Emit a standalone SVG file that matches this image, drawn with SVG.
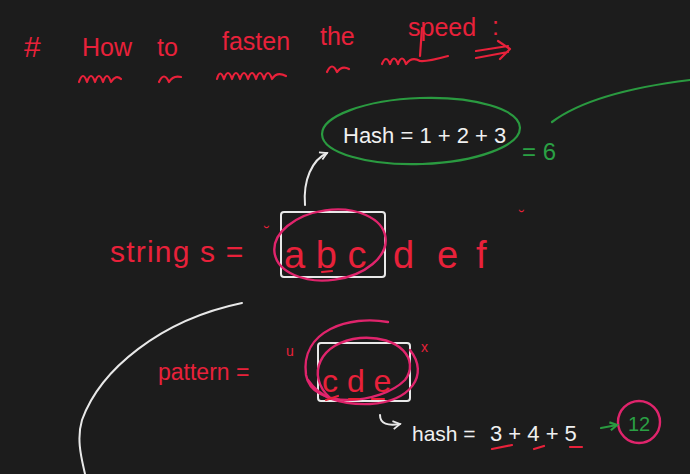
<svg xmlns="http://www.w3.org/2000/svg" width="690" height="474" viewBox="0 0 690 474">
<defs>
<style>
.red{fill:#e8213a;font-family:"Liberation Sans",Arial,sans-serif}
.wht{fill:#f0f0f0;font-family:"Liberation Sans",Arial,sans-serif}
.grn{fill:#2aa044;font-family:"Liberation Sans",Arial,sans-serif}
.sr{fill:none;stroke:#e8213a;stroke-width:2.2;stroke-linecap:round;stroke-linejoin:round}
.sm{fill:none;stroke:#e0246c;stroke-width:2.4;stroke-linecap:round}
.sw{fill:none;stroke:#e8e8e8;stroke-width:2;stroke-linecap:round;stroke-linejoin:round}
.sg{fill:none;stroke:#2a9a40;stroke-width:2.2;stroke-linecap:round}
</style>
<marker id="wh" markerWidth="10" markerHeight="10" refX="8" refY="5" orient="auto" markerUnits="userSpaceOnUse">
<path d="M1,1 L8,5 L1,9" fill="none" stroke="#e8e8e8" stroke-width="1.8"/>
</marker>
<marker id="gh" markerWidth="10" markerHeight="10" refX="8" refY="5" orient="auto" markerUnits="userSpaceOnUse">
<path d="M1,1 L8,5 L1,9" fill="none" stroke="#2a9a40" stroke-width="2.2"/>
</marker>
</defs>
<rect width="690" height="474" fill="#1c1c1c"/>

<g id="title">
<text class="red" x="24" y="57" font-size="30">#</text>
<text class="red" x="82" y="56" font-size="25">How</text>
<text class="red" x="157" y="56" font-size="25">to</text>
<text class="red" x="222" y="50" font-size="25">fasten</text>
<text class="red" x="320" y="45" font-size="25">the</text>
<text class="red" x="408" y="36" font-size="25">speed</text>
<text class="red" x="492" y="35" font-size="25">:</text>
<path class="sr" d="M79,82 q4,-12 8,0 q4,-12 8,0 q4,-12 8,0 q4,-12 8,0 q5,-8 10,-3"/>
<path class="sr" d="M159,82 q5,-11 10,0 q4,-7 12,-5"/>
<path class="sr" d="M217,79 q3,-11 7,0 q4,-12 8,0 q4,-12 8,0 q4,-12 8,0 q4,-12 8,0 q4,-12 8,0 q4,-12 8,0 q5,-8 14,-3"/>
<path class="sr" d="M327,72 q5,-11 10,0 q5,-7 12,-3"/>
<path class="sr" d="M382,64 q4,-10 8,0 q4,-11 8,0 q4,-11 8,0 q6,-8 14,-3 q6,1 28,-5"/>
<path class="sr" d="M422,28 L420,56"/>
<path class="sr" d="M476,51 L508,46 M476,58 L508,52 M498,41 L510,49 L500,59"/>
</g>

<g id="hash-top">
<ellipse cx="421" cy="131" rx="99" ry="33" fill="none" stroke="#2a9a40" stroke-width="2.2" transform="rotate(-2 421 131)"/>
<text class="wht" x="343" y="143" font-size="22">Hash = 1 + 2 + 3</text>
</g>

<g id="result6">
<text class="grn" x="522" y="160" font-size="24">= 6</text>
<path class="sg" d="M552,122 q40,-30 138,-42"/>
</g>

<g id="string-s">
<text class="red" x="110" y="262" font-size="30" letter-spacing="1.2">string s =</text>
<text class="red" x="264" y="238" font-size="16">˘</text>
<rect x="281" y="212" width="104" height="65" rx="3" fill="none" stroke="#e8e8e8" stroke-width="2"/>
<ellipse cx="330" cy="245" rx="56" ry="35" class="sm" transform="rotate(-8 330 245)"/>
<text class="red" x="284" y="268" font-size="38">a b c</text>
<path class="sr" d="M322,272 l10,-1"/>
<text class="red" x="393" y="268" font-size="38">d</text>
<text class="red" x="437" y="268" font-size="38">e</text>
<text class="red" x="476" y="268" font-size="38">f</text>
<text class="red" x="519" y="222" font-size="16">˘</text>
</g>

<g id="pattern">
<text class="red" x="158" y="380" font-size="23">pattern =</text>
<text class="red" x="286" y="356" font-size="14">u</text>
<text class="red" x="421" y="352" font-size="14">x</text>
<rect x="318" y="343" width="92" height="58" rx="3" fill="none" stroke="#e8e8e8" stroke-width="2"/>
<path class="sm" d="M388,322 C350,315 300,330 306,375 C312,410 380,405 405,380 C420,360 400,335 360,338 C320,342 305,375 330,398"/>
<path class="sm" d="M410,350 C430,375 410,402 370,404 C340,405 320,398 308,380"/>
<text class="red" x="322" y="392" font-size="32">c d e</text>
<path class="sr" d="M326,400 l12,-4 M349,399 l10,0 M372,399 l12,0"/>
</g>

<g id="hash-bottom">
<text class="wht" x="412" y="441" font-size="21">hash =</text>
<text class="wht" x="490" y="441" font-size="22">3 + 4 + 5</text>
<path class="sr" d="M492,449 l20,-4 M534,449 l10,-3 M570,447 l12,0"/>
<text class="grn" x="628" y="431" font-size="20">12</text>
<circle cx="639" cy="422" r="21" class="sm"/>
</g>

<g id="connectors">
<path class="sw" d="M305,205 C303,180 312,160 327,153" marker-end="url(#wh)"/>
<path class="sw" d="M380,415 C380,424 388,426 400,424" marker-end="url(#wh)"/>
<path class="sg" d="M601,428 L617,425" marker-end="url(#gh)"/>
<path class="sw" d="M242,303 C160,320 100,370 82,420 C76,440 82,460 85,474"/>
</g>
</svg>
